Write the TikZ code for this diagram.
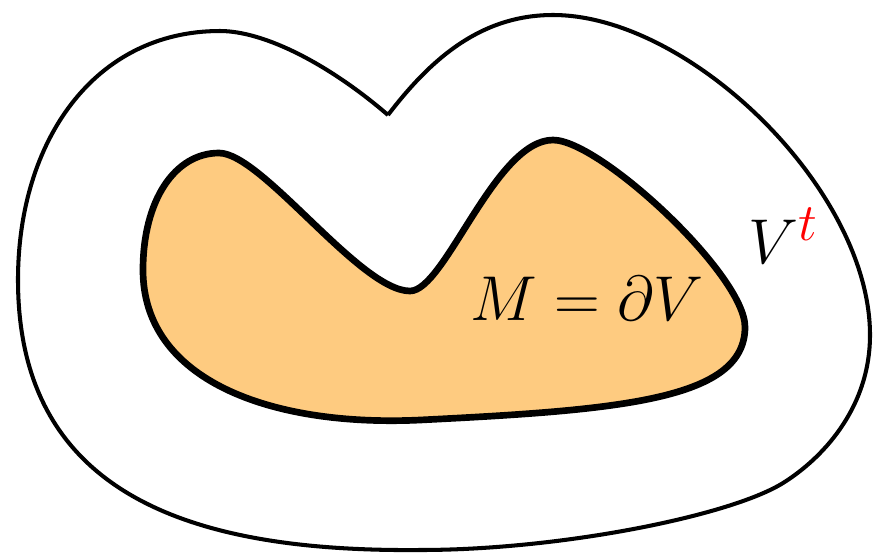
\documentclass[tikz,border=0pt]{standalone}
\usepackage{tikz}
\definecolor{SetFill}{RGB}{254,203,128}
\tikzset{
  outerset/.style ={draw=black, line width=2.3pt, line join=miter},
  innerset/.style ={draw=black, line width=3.8pt, fill=SetFill},
  setlabel/.style ={font=\Huge, scale=1.45, inner sep=0pt},
}

\begin{document}
\begin{tikzpicture}[x=0.02cm,y=-0.02cm]
  \useasboundingbox (0,0) rectangle (873,552);

  % outer set, with the cusp at the top
  \draw[outerset] (388,115)
    .. controls (430,60) and (480,15) .. (553,15)
    .. controls (690,15) and (870,190) .. (870,335)
    .. controls (870,410) and (820,460) .. (783,483)
    .. controls (730,516) and (560,550) .. (420,550)
    .. controls (200,552) and (18,500) .. (18,280)
    .. controls (18,140) and (95,31) .. (220,31)
    .. controls (265,31) and (330,65) .. (388,115);

  % inner set M
  \draw[innerset] (219,153)
    .. controls (262,153) and (360,291) .. (410,291)
    .. controls (445,291) and (495,140) .. (553,140)
    .. controls (600,140) and (745,275) .. (745,327)
    .. controls (745,400) and (620,410) .. (420,420)
    .. controls (270,427) and (143,380) .. (143,270)
    .. controls (143,200) and (175,153) .. (219,153) -- cycle;

  \node[setlabel, anchor=base] (mlab) at (587,320) {$M=\partial V$};
  \node[setlabel, anchor=base west] (vlab) at (748,263) {$V^{\color{red}t}$};
\end{tikzpicture}
\end{document}
